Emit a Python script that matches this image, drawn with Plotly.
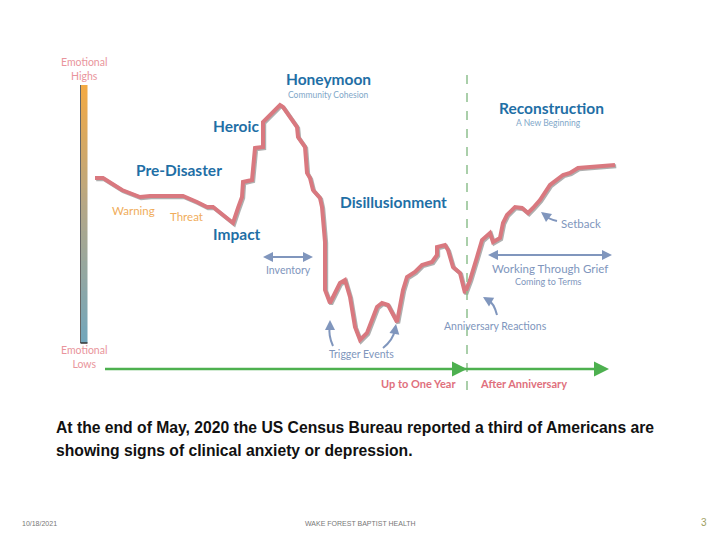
import plotly.graph_objects as go

# Emotional curve (time position, emotional level in slide units)
curve_x = [95, 103, 122, 140, 150, 183, 197, 207, 213, 233, 238, 242, 243, 252, 255, 263, 263, 280, 283,
           297, 298, 305, 307, 310, 313, 320, 322, 325, 325, 330, 335, 340, 345, 350, 355, 360, 367, 377,
           382, 388, 397, 400, 403, 407, 415, 422, 432, 437, 437, 445, 448, 453, 460, 465, 470, 477, 482,
           490, 493, 500, 503, 507, 515, 522, 528, 533, 540, 550, 557, 563, 570, 578, 590, 615]
curve_y = [178, 178, 190, 197, 196, 196, 202, 207, 207, 223, 208, 197, 182, 180, 148, 147, 122, 105, 107,
           127, 137, 147, 173, 178, 190, 198, 207, 242, 290, 303, 293, 283, 280, 297, 327, 340, 333, 307,
           303, 305, 322, 307, 290, 277, 272, 265, 262, 255, 247, 245, 250, 267, 273, 293, 280, 257, 240,
           233, 242, 238, 223, 215, 207, 208, 213, 208, 200, 185, 180, 175, 173, 168, 167, 165]

phase_labels = ["Pre-Disaster", "Heroic", "Honeymoon", "Impact", "Disillusionment", "Reconstruction"]
phase_pos = [(179, 170), (236, 126), (328, 79), (237, 234), (393, 202), (551, 108)]
sub_labels = ["Community Cohesion", "A New Beginning"]
sub_pos = [(328, 95), (548, 123)]
warn_labels = ["Warning", "Threat"]
warn_pos = [(133, 210), (186, 216)]
note_labels = ["Setback", "Inventory", "Working Through Grief", "Coming to Terms",
               "Anniversary Reactions", "Trigger Events"]
note_pos = [(581, 223), (288, 270), (550, 268), (548, 281), (495, 326), (361, 354)]
note_sizes = [11.5, 10.5, 11.5, 9, 10.5, 10.5]

HEAD = "Lato"
blue = "#1f6fa6"
grey_blue = "#8096bd"

fig = go.Figure()

# gradient bar
n = 60
fig.add_trace(go.Heatmap(
    z=[[i] for i in range(n)], x0=84, dx=7, y0=85 + (343 - 85) / n / 2, dy=(343 - 85) / n,
    colorscale=[[0, "#f3aa44"], [0.5, "#b1a78a"], [1, "#72a6bb"]],
    showscale=False, hoverinfo="skip"))
fig.add_shape(type="line", x0=80.5, x1=80.5, y0=85, y1=343, line=dict(color="#666", width=1))
fig.add_shape(type="line", x0=80.5, x1=87.5, y0=343, y1=343, line=dict(color="#333", width=1.5))

# dashed divider
fig.add_shape(type="line", x0=467, x1=467, y0=75, y1=395,
              line=dict(color="#8fc08f", width=1.5, dash="dash"))

# green timeline
fig.add_shape(type="line", x0=105, x1=604, y0=369, y1=369, line=dict(color="#4db04f", width=2.5))
for hx in [467, 609]:
    fig.add_annotation(x=hx, y=369, ax=hx - 12, ay=369, xref="x", yref="y", axref="x", ayref="y",
                       text="", showarrow=True, arrowhead=2, arrowsize=1.2, arrowwidth=2.5,
                       arrowcolor="#4db04f")

# curve shadow + curve
fig.add_trace(go.Scatter(x=[v + 1.2 for v in curve_x], y=[v + 1.2 for v in curve_y], mode="lines",
                         line=dict(color="rgba(110,110,110,0.55)", width=4), hoverinfo="skip"))
fig.add_trace(go.Scatter(x=curve_x, y=curve_y, mode="lines",
                         line=dict(color="#d9787f", width=4), hoverinfo="skip"))

def txt(s, x, y, size, color, bold=False, family=HEAD, xanchor="center"):
    fig.add_annotation(x=x, y=y, text=s, showarrow=False, xanchor=xanchor, yanchor="middle",
                       font=dict(family=family, size=size, color=color, weight=700 if bold else 400))

for s, (x, y) in zip(phase_labels, phase_pos):
    txt(s, x, y, 15.5, blue, bold=True)
for s, (x, y) in zip(sub_labels, sub_pos):
    txt(s, x, y, 8.5, "#7fa7c9")
for s, (x, y) in zip(warn_labels, warn_pos):
    txt(s, x, y, 11.5, "#f0ad5c")
for s, (x, y), fs in zip(note_labels, note_pos, note_sizes):
    txt(s, x, y, fs, grey_blue)
txt("Emotional<br>Highs", 84, 69, 10.5, "#e9959c")
txt("Emotional<br>Lows", 84, 357, 10.5, "#e9959c")
txt("Up to One Year", 418, 383, 11, "#e0707d", bold=True)
txt("After Anniversary", 523, 383, 11, "#e0707d", bold=True)

# double arrows
for x0, x1, y in [(263, 313, 257), (488, 612, 255)]:
    fig.add_shape(type="line", x0=x0 + 4, x1=x1 - 4, y0=y, y1=y, line=dict(color=grey_blue, width=2))
    for hx, d in [(x0, 1), (x1, -1)]:
        fig.add_annotation(x=hx, y=y, ax=hx + d * 8, ay=y, xref="x", yref="y", axref="x", ayref="y",
                           text="", showarrow=True, arrowhead=2, arrowsize=1, arrowwidth=2,
                           arrowcolor=grey_blue)

# curved pointer arrows: (start, control, end, head-from)
curves = [((557, 221), (548, 219), (541, 212), (545, 215)),
          ((333, 346), (328, 335), (330, 320), (330, 326)),
          ((383, 348), (393, 340), (396, 324), (395, 330)),
          ((497, 315), (494, 303), (483, 297), (488, 300))]
for (sx, sy), (cx, cy), (ex, ey), (hx, hy) in curves:
    fig.add_shape(type="path", path=f"M {sx},{sy} Q {cx},{cy} {hx},{hy}",
                  line=dict(color=grey_blue, width=2))
    fig.add_annotation(x=ex, y=ey, ax=hx, ay=hy, xref="x", yref="y", axref="x", ayref="y",
                       text="", showarrow=True, arrowhead=2, arrowsize=1, arrowwidth=2,
                       arrowcolor=grey_blue)

# body text
body = ["At the end of May, 2020 the US Census Bureau reported a third of Americans are",
        "showing signs of clinical anxiety or depression."]
for i, line in enumerate(body):
    fig.add_annotation(x=54, y=427 + i * 23, text=line, showarrow=False, xanchor="left",
                       yanchor="middle", font=dict(family="Liberation Sans", size=15.7,
                                                   color="#111", weight=700))

# footer
txt("10/18/2021", 20, 523, 7, "#777", family="Liberation Sans", xanchor="left")
txt("WAKE FOREST BAPTIST HEALTH", 360, 523, 7, "#777", family="Liberation Sans")
txt("3", 704, 522, 10, "#a0a060", family="Liberation Sans")

# page body has an 8px margin: size the figure so data units equal window pixels
fig.update_layout(
    width=712, height=532, margin=dict(l=0, r=0, t=0, b=0),
    paper_bgcolor="white", plot_bgcolor="white", showlegend=False,
    xaxis=dict(range=[8, 720], visible=False, fixedrange=True),
    yaxis=dict(range=[540, 8], visible=False, fixedrange=True),
)
fig.write_html("out.html")
